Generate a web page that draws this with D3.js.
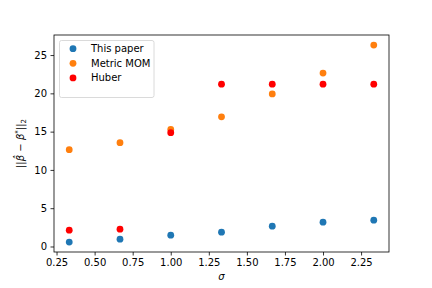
<!DOCTYPE html>
<html><head><meta charset="utf-8">
<script src="https://cdn.jsdelivr.net/npm/d3@7"></script>
<style>body{margin:0;background:#fff}svg{display:block;font-family:"DejaVu Sans",sans-serif}</style>
</head><body><svg id="c" width="432" height="288"></svg>
<script>
const sigma = [1/3, 2/3, 1, 4/3, 5/3, 2, 7/3];
const thisPaper = [0.57, 0.96, 1.48, 1.87, 2.65, 3.17, 3.43];
const metricMOM = [12.65, 13.56, 15.29, 16.93, 19.92, 22.65, 26.3];
const huber = [2.13, 2.26, 14.86, 21.2, 21.2, 21.2, 21.2];
const seriesNames = ["This paper", "Metric MOM", "Huber"];
const seriesColors = ["#1f77b4", "#ff7f0e", "#ff0000"];
const xTicks = [0.25, 0.5, 0.75, 1.0, 1.25, 1.5, 1.75, 2.0, 2.25];
const yTicks = [0, 5, 10, 15, 20, 25];

const svg = d3.select("#c");
const L = 54, R = 389, T = 35, B = 252;
const x = d3.scaleLinear().domain([0.2333, 2.4333]).range([L, R]);
const yMin = -0.72, yMax = 27.62;
const y = d3.scaleLinear().domain([yMin, yMax]).range([B, T]);

const gx = svg.append("g").attr("transform", `translate(0,${B})`)
  .call(d3.axisBottom(x).tickValues(xTicks).tickFormat(d3.format(".2f")).tickSizeOuter(0).tickSize(3.5).tickPadding(3.5));
const gy = svg.append("g").attr("transform", `translate(${L},0)`)
  .call(d3.axisLeft(y).tickValues(yTicks).tickFormat(d3.format("d")).tickSizeOuter(0).tickSize(3.5).tickPadding(3.5));
[gx, gy].forEach(g => {
  g.select(".domain").remove();
  g.selectAll("text").attr("font-size", 10).attr("font-family", "DejaVu Sans").attr("fill", "#000");
  g.selectAll("line").attr("stroke", "#000").attr("stroke-width", 0.8);
});

const data = [thisPaper, metricMOM, huber];
data.forEach((vals, i) => {
  svg.append("g").selectAll("circle").data(vals).join("circle")
    .attr("cx", (d, j) => x(sigma[j])).attr("cy", d => y(d))
    .attr("r", 3.4).attr("fill", seriesColors[i]);
});

svg.append("rect").attr("x", L).attr("y", T).attr("width", R - L).attr("height", B - T)
  .attr("fill", "none").attr("stroke", "#000").attr("stroke-width", 0.8);

// legend
const lg = svg.append("g");
lg.append("rect").attr("x", 59.5).attr("y", 40.5).attr("width", 94.5).attr("height", 57)
  .attr("rx", 2).attr("fill", "#fff").attr("fill-opacity", 0.8).attr("stroke", "#d0d0d0").attr("stroke-width", 0.8);
seriesNames.forEach((n, i) => {
  const yy = 48.7 + i * 14.6;
  lg.append("circle").attr("cx", 73).attr("cy", yy).attr("r", 3.4).attr("fill", seriesColors[i]);
  lg.append("text").attr("x", 91).attr("y", yy).attr("dy", "0.35em").attr("font-size", 10).text(n);
});

// x label
svg.append("text").attr("x", (L + R) / 2).attr("y", 280).attr("text-anchor", "middle")
  .attr("font-size", 10).attr("font-style", "italic").text("σ");

// y label
const yl = svg.append("text").attr("transform", `translate(24,${(T + B) / 2}) rotate(-90)`)
  .attr("text-anchor", "middle").attr("font-size", 10);
yl.append("tspan").text("||");
yl.append("tspan").attr("font-style", "italic").text("β\u0302");
yl.append("tspan").text(" − ");
yl.append("tspan").attr("font-style", "italic").text("β");
yl.append("tspan").attr("font-size", 7).attr("dy", -4).text("*");
yl.append("tspan").attr("dy", 4).text("||");
yl.append("tspan").attr("font-size", 7).attr("dy", 2).text("2");
</script></body></html>
